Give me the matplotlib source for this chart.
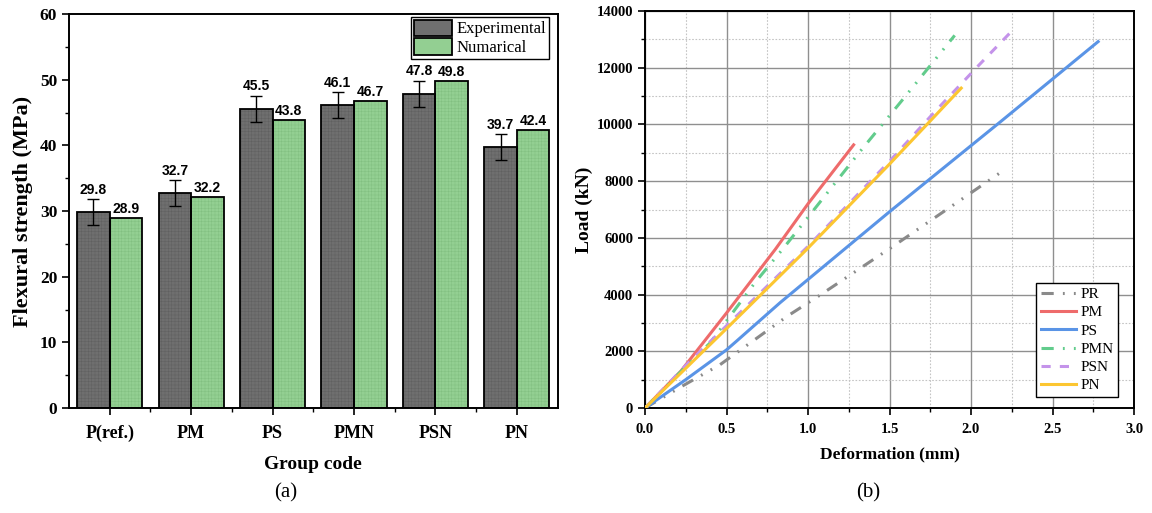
import numpy as np
import matplotlib
matplotlib.use("Agg")
import matplotlib.pyplot as plt
from matplotlib.ticker import MultipleLocator, FixedLocator

# ---- data: panel (a) ----
groups = ["P(ref.)", "PM", "PS", "PMN", "PSN", "PN"]
experimental = [29.8, 32.7, 45.5, 46.1, 47.8, 39.7]
exp_err = [2.0, 2.0, 2.0, 2.0, 2.0, 2.0]
numerical = [28.9, 32.2, 43.8, 46.7, 49.8, 42.4]

# ---- data: panel (b) load-deformation curves ----
pr_x = [0.0, 0.234, 0.461, 0.871, 1.075, 1.506, 1.936, 2.21]
pr_y = [0, 790, 1530, 3230, 3985, 5640, 7335, 8420]
pm_x = [0.0, 0.22, 0.5, 0.8, 1.0, 1.28]
pm_y = [0, 1300, 3350, 5600, 7200, 9280]
ps_x = [0.0, 0.25, 0.5, 0.56, 0.83, 1.5, 2.18, 2.78]
ps_y = [0, 1000, 2050, 2350, 3720, 6920, 10090, 12920]
pmn_x = [0.0, 0.21, 0.4, 0.68, 0.85, 1.32, 1.58, 1.9]
pmn_y = [0, 1230, 2300, 4460, 5640, 9050, 10870, 13140]
psn_x = [0.0, 0.25, 0.5, 1.0, 1.5, 1.78, 2.05, 2.26]
psn_y = [0, 1500, 2900, 5700, 8700, 10460, 12100, 13350]
pn_x = [0.0, 0.5, 0.99, 1.5, 1.94]
pn_y = [0, 2800, 5580, 8600, 11280]

plt.rcParams['hatch.linewidth'] = 0.3
serif = ['Liberation Serif', 'DejaVu Serif']
sans = ['Liberation Sans', 'DejaVu Sans']

fig = plt.figure(figsize=(11.52, 5.13), dpi=100)
W, H = 1152, 513
ax1 = fig.add_axes([69 / W, 1 - 408 / H, (557.5 - 69) / W, (408 - 14) / H])
ax2 = fig.add_axes([645 / W, 1 - 408 / H, (1134 - 645) / W, (408 - 11) / H])

# ---------------- panel (a) ----------------
x = np.arange(len(groups))
w = 0.4
# textured fill, then black outline
ax1.bar(x - w / 2, experimental, w, color='#6f6f6f', edgecolor='#5e5e5e', hatch='+++++', lw=0, zorder=2)
ax1.bar(x + w / 2, numerical, w, color='#93cf92', edgecolor='#7fbd7e', hatch='+++++', lw=0, zorder=2)
ax1.bar(x - w / 2, experimental, w, fill=False, edgecolor='black', lw=1.3, zorder=3)
ax1.bar(x + w / 2, numerical, w, fill=False, edgecolor='black', lw=1.3, zorder=3)
ax1.errorbar(x - w / 2, experimental, yerr=exp_err, fmt='none', ecolor='black',
             elinewidth=1, capsize=4, capthick=1, zorder=4)

for xi, v, e in zip(x, experimental, exp_err):
    ax1.text(xi - w / 2, v + e + 0.4, f"{v}", ha='center', va='bottom',
             fontsize=10, fontweight='bold', family=sans)
for xi, v in zip(x, numerical):
    ax1.text(xi + w / 2, v + 0.3, f"{v}", ha='center', va='bottom',
             fontsize=10, fontweight='bold', family=sans)

ax1.set_xlim(-0.5, 5.5)
ax1.set_ylim(0, 60)
ax1.set_xticks(x)
ax1.set_xticklabels(groups, fontsize=13, fontweight='bold', family=serif)
ax1.xaxis.set_minor_locator(FixedLocator(x[:-1] + 0.5))
ax1.yaxis.set_major_locator(MultipleLocator(10))
ax1.yaxis.set_minor_locator(MultipleLocator(5))
for lab in ax1.get_yticklabels():
    lab.set_fontsize(12.5)
    lab.set_fontweight('bold')
    lab.set_family(serif)
ax1.tick_params(which='major', direction='out', length=5, width=1.2)
ax1.tick_params(which='minor', direction='out', length=3, width=1)
ax1.tick_params(axis='x', which='major', pad=7)
for s in ax1.spines.values():
    s.set_linewidth(1.4)
ax1.set_ylabel("Flexural strength (MPa)", fontsize=16, fontweight='bold', family=serif, labelpad=5)
ax1.set_xlabel("Group code", fontsize=14, fontweight='bold', family=serif, labelpad=10)

h1 = plt.Rectangle((0, 0), 1, 1, facecolor='#6f6f6f', edgecolor='black', lw=1.3)
h2 = plt.Rectangle((0, 0), 1, 1, facecolor='#93cf92', edgecolor='black', lw=1.3)
leg1 = ax1.legend([h1, h2], ["Experimental", "Numarical"], loc='upper right',
                  bbox_to_anchor=(1 - 8.5 / 488.5, 1 - 3 / 394), borderaxespad=0,
                  prop={'family': serif, 'size': 12}, fancybox=False, edgecolor='black',
                  framealpha=1, handlelength=2.3, handleheight=1.15, handletextpad=0.3,
                  labelspacing=0.05, borderpad=0.15)
leg1.get_frame().set_linewidth(1)

# ---------------- panel (b) ----------------
lw = 2.2
ax2.plot(pr_x, pr_y, color='#8a8a8a', lw=lw, ls=(0, (4, 3, 0.6, 3, 0.6, 3)), label='PR', zorder=3)
ax2.plot(pm_x, pm_y, color='#ee6b6b', lw=lw, label='PM', zorder=3)
ax2.plot(ps_x, ps_y, color='#5a94e6', lw=lw, label='PS', zorder=3)
ax2.plot(pmn_x, pmn_y, color='#62cc8c', lw=lw, ls=(0, (4, 3, 0.6, 3, 0.6, 3)), label='PMN', zorder=3)
ax2.plot(psn_x, psn_y, color='#c493ea', lw=lw, ls=(0, (3, 3)), label='PSN', zorder=3)
ax2.plot(pn_x, pn_y, color='#fcc631', lw=lw, label='PN', zorder=3)

ax2.set_xlim(0, 3.0)
ax2.set_ylim(0, 14000)
ax2.xaxis.set_major_locator(MultipleLocator(0.5))
ax2.xaxis.set_minor_locator(MultipleLocator(0.25))
ax2.yaxis.set_major_locator(MultipleLocator(2000))
ax2.yaxis.set_minor_locator(MultipleLocator(1000))
ax2.set_xticks(np.arange(0, 3.01, 0.5))
ax2.set_xticklabels([f"{v:.1f}" for v in np.arange(0, 3.01, 0.5)])
ax2.grid(which='major', color='#8f8f8f', lw=1, ls='-', zorder=0)
ax2.grid(which='minor', color='#c4c4c4', lw=0.8, ls=(0, (1.5, 1.5)), zorder=0)
for lab in ax2.get_xticklabels() + ax2.get_yticklabels():
    lab.set_fontsize(10.5)
    lab.set_fontweight('bold')
    lab.set_family(serif)
ax2.tick_params(which='major', direction='out', length=5, width=1.2)
ax2.tick_params(which='minor', direction='out', length=3, width=1)
ax2.tick_params(axis='x', which='major', pad=6)
for s in ax2.spines.values():
    s.set_linewidth(1.4)
ax2.set_xlabel("Deformation (mm)", fontsize=12.5, fontweight='bold', family=serif, labelpad=7)
ax2.set_ylabel("Load (kN)", fontsize=14, fontweight='bold', family=serif, labelpad=3)

leg2 = ax2.legend(loc='lower right', bbox_to_anchor=(1 - 16 / 489, 11 / 397), borderaxespad=0,
                  prop={'family': serif, 'size': 11}, fancybox=False, edgecolor='black',
                  framealpha=1, handlelength=2.3, handletextpad=0.3, labelspacing=0.3,
                  borderpad=0.3)
leg2.get_frame().set_linewidth(1)

fig.text(286 / W, 1 - 493 / H, "(a)", ha='center', va='center', fontsize=15, family=serif)
fig.text(868 / W, 1 - 493 / H, "(b)", ha='center', va='center', fontsize=15, family=serif)

fig.savefig("out.png", dpi=100)
